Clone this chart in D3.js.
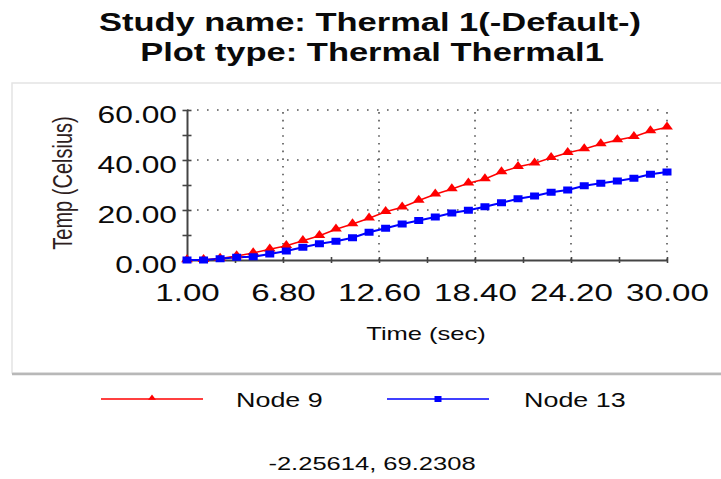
<!DOCTYPE html>
<html lang="en">

<head>
	<meta charset="UTF-8">
	<script src="https://cdn.jsdelivr.net/npm/d3@7"></script>
	<title>Thermal 1 - Temp vs Time</title>
</head>
<style>
	body {
		margin: 0;
		background: #fff;
		font-family: Arial, "Liberation Sans", sans-serif;
	}

	svg text {
		fill: #0a0a0a;
	}
</style>

<body>
	<svg id="chart" width="721" height="479"></svg>
	<script>
		// data
		const titleLines = ['Study name: Thermal 1(-Default-)', 'Plot type: Thermal Thermal1'];
		const time = [1, 2, 3, 4, 5, 6, 7, 8, 9, 10, 11, 12, 13, 14, 15, 16, 17, 18, 19, 20, 21, 22, 23, 24, 25, 26, 27, 28, 29, 30];
		const node9 = [0, 0.1, 0.6, 1.6, 2.8, 4.3, 5.7, 7.7, 9.7, 12.3, 14.4, 16.7, 19.3, 21.1, 23.8, 26.3, 28.4, 30.7, 32.4, 35.2, 37.3, 38.7, 40.9, 42.9, 44.4, 46.4, 48.0, 49.3, 51.6, 53.1];
		const node13 = [0, 0, 0.5, 1.1, 1.3, 2.4, 3.6, 5.1, 6.5, 7.5, 8.9, 11.1, 12.7, 14.4, 15.8, 17.2, 18.8, 19.9, 21.3, 22.9, 24.5, 25.6, 27.1, 28.0, 29.7, 30.7, 31.6, 32.7, 34.3, 35.2];
		const xTicks = [1, 6.8, 12.6, 18.4, 24.2, 30];
		const xMinor = [3.9, 9.7, 15.5, 21.3, 27.1];
		const yTicks = [0, 20, 40, 60];
		const yMinor = [10, 30, 50];
		const seriesNames = ['Node 9', 'Node 13'];
		const seriesColors = ['#ff0000', '#0000ff'];
		const xLabel = 'Time (sec)';
		const yLabel = 'Temp (Celsius)';
		const footer = '-2.25614, 69.2308';

		const sx = 1.38; // text in the picture is stretched sideways
		const svg = d3.select('#chart');

		function stretchedText(x, y, str, size, anchor, weight) {
			return svg.append('text')
				.attr('transform', `translate(${x},${y}) scale(${sx},1)`)
				.attr('text-anchor', anchor || 'middle')
				.style('font-size', size + 'px')
				.style('font-weight', weight || 'normal')
				.text(str);
		}

		// title
		stretchedText(370, 31, titleLines[0], 25, 'middle', 'bold');
		stretchedText(372, 61, titleLines[1], 25, 'middle', 'bold');

		// chart panel
		svg.append('rect').attr('x', 12).attr('y', 83).attr('width', 720).attr('height', 290)
			.attr('fill', '#fff').attr('stroke', '#e4e4e4').attr('stroke-width', 1.5);
		svg.append('line').attr('x1', 12).attr('x2', 721).attr('y1', 374).attr('y2', 374)
			.attr('stroke', '#b8b8b8').attr('stroke-width', 2.5);

		const x = d3.scaleLinear().domain([1, 30]).range([187, 667]);
		const y = d3.scaleLinear().domain([0, 60]).range([260, 110]);

		// dotted grid
		const grid = svg.append('g').attr('stroke', '#555').attr('stroke-width', 1.6);
		grid.selectAll('.hg').data(yTicks.slice(1)).enter().append('line')
			.attr('x1', x(1)).attr('x2', x(30))
			.attr('y1', d => y(d)).attr('y2', d => y(d))
			.attr('stroke-dasharray', '1.6,8.4');
		grid.selectAll('.vg').data(xTicks.slice(1)).enter().append('line')
			.attr('x1', d => x(d)).attr('x2', d => x(d))
			.attr('y1', y(0)).attr('y2', y(60))
			.attr('stroke-dasharray', '1.6,6.1');

		// axes
		const xAxis = svg.append('g')
			.attr('transform', `translate(0,${y(0)})`)
			.call(d3.axisBottom(x).tickValues(xTicks.concat(xMinor)).tickSize(0).tickFormat(d => xTicks.includes(d) ? d.toFixed(2) : ''));
		const yAxis = svg.append('g')
			.attr('transform', `translate(${x(1)},0)`)
			.call(d3.axisLeft(y).tickValues(yTicks.concat(yMinor)).tickSize(0).tickFormat(d => yTicks.includes(d) ? d.toFixed(2) : ''));

		[xAxis, yAxis].forEach(a => {
			a.select('.domain').attr('stroke', '#444').attr('stroke-width', 2);
			a.selectAll('.tick line').attr('stroke', '#444').attr('stroke-width', 1.6);
		});
		xAxis.selectAll('.tick line').attr('y1', -3).attr('y2', 3);
		yAxis.selectAll('.tick line').attr('x1', -4.5).attr('x2', 4.5);

		xAxis.selectAll('.tick text')
			.attr('y', null).attr('dy', null)
			.attr('transform', `translate(0,41) scale(${sx},1)`)
			.attr('fill', '#0a0a0a')
			.style('font-size', '24px')
			.style('font-family', 'Arial, "Liberation Sans", sans-serif');
		yAxis.selectAll('.tick text')
			.attr('x', null).attr('dy', null)
			.attr('transform', `translate(-10,12.5) scale(${sx},1)`)
			.attr('fill', '#0a0a0a')
			.style('font-size', '23px')
			.style('font-family', 'Arial, "Liberation Sans", sans-serif');

		// axis titles
		stretchedText(426, 340, xLabel, 18.5);
		svg.append('text')
			.attr('transform', `translate(72,183) scale(${sx},1) rotate(-90)`)
			.attr('text-anchor', 'middle')
			.style('font-size', '20px')
			.style('fill', '#2e1e1e')
			.text(yLabel);

		// series
		const line = d3.line().x((d, i) => x(time[i])).y(d => y(d));
		const tri = d3.symbol().type(d3.symbolTriangle).size(36);

		svg.append('path').datum(node9).attr('d', line)
			.attr('fill', 'none').attr('stroke', seriesColors[0]).attr('stroke-width', 1.4);
		svg.append('path').datum(node13).attr('d', line)
			.attr('fill', 'none').attr('stroke', seriesColors[1]).attr('stroke-width', 2);

		svg.selectAll('.m9').data(node9).enter().append('path')
			.attr('d', tri)
			.attr('transform', (d, i) => `translate(${x(time[i])},${y(d) - 0.5}) scale(1.3,1)`)
			.attr('fill', seriesColors[0]);
		svg.selectAll('.m13').data(node13).enter().append('rect')
			.attr('x', (d, i) => x(time[i]) - 4.5).attr('y', d => y(d) - 3.5)
			.attr('width', 9).attr('height', 7)
			.attr('fill', seriesColors[1]);

		// legend
		const lg = [{ x0: 101, x1: 203, tx: 236 }, { x0: 387, x1: 489, tx: 524 }];
		lg.forEach((p, i) => {
			svg.append('line').attr('x1', p.x0).attr('x2', p.x1).attr('y1', 399).attr('y2', 399)
				.attr('stroke', seriesColors[i]).attr('stroke-width', 1.4);
			if (i === 0) {
				svg.append('path').attr('d', d3.symbol().type(d3.symbolTriangle).size(16))
					.attr('transform', `translate(${(p.x0 + p.x1) / 2},398) scale(1.3,1)`)
					.attr('fill', seriesColors[i]);
			} else {
				svg.append('rect').attr('x', (p.x0 + p.x1) / 2 - 3.5).attr('y', 396)
					.attr('width', 7).attr('height', 6).attr('fill', seriesColors[i]);
			}
			stretchedText(p.tx, 407, seriesNames[i], 19.5, 'start');
		});

		// footer coordinates
		stretchedText(372, 470, footer, 18.5);
	</script>
</body>

</html>
